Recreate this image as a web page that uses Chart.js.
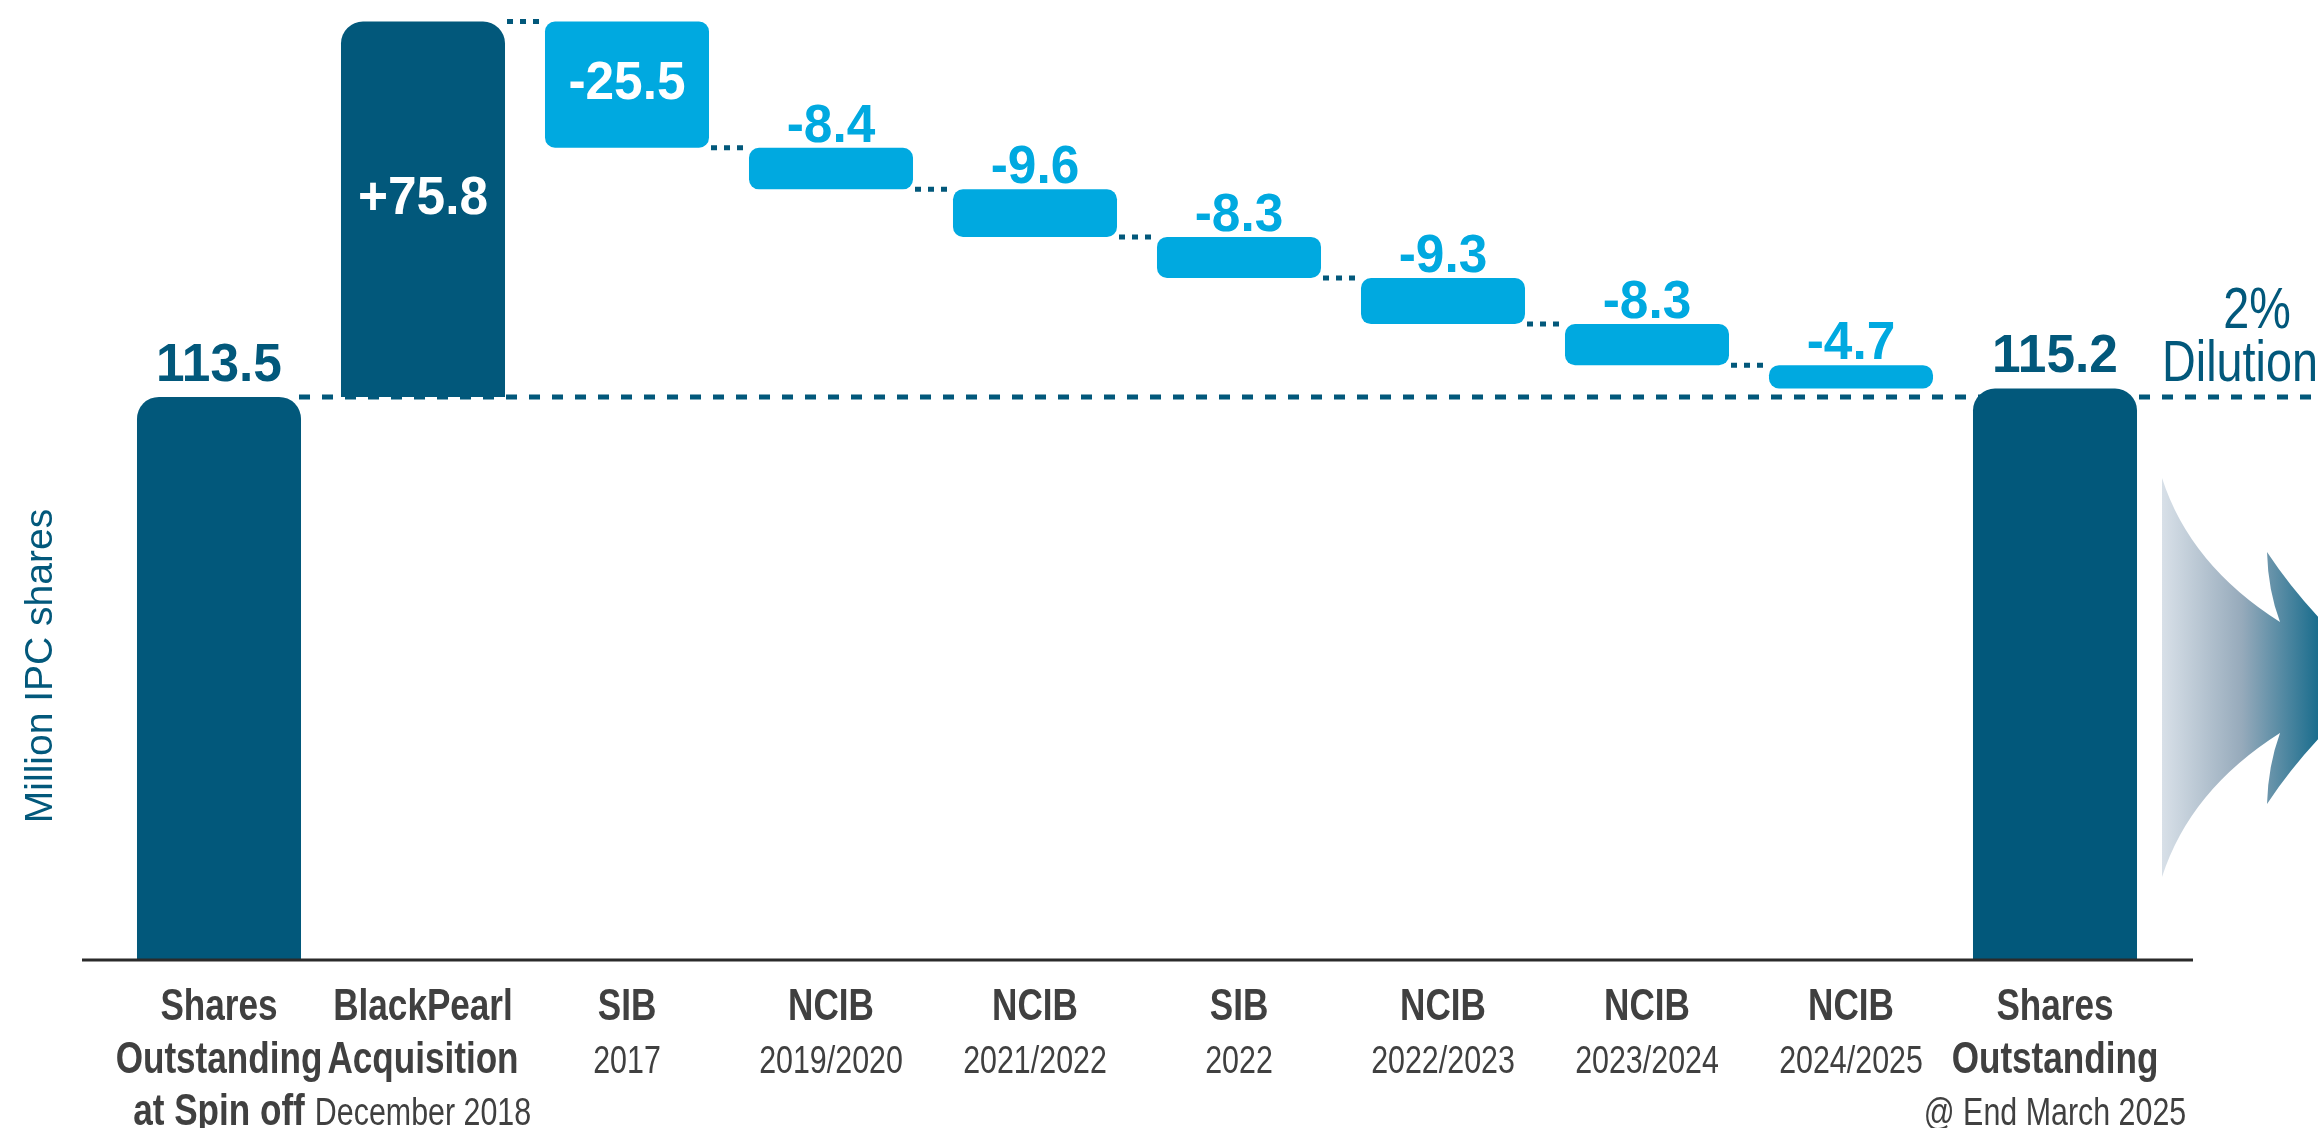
<!DOCTYPE html>
<html>
<head>
<meta charset="utf-8">
<title>IPC shares outstanding</title>
<script src="https://cdn.jsdelivr.net/npm/chart.js@4.4.1/dist/chart.umd.min.js"></script>
<style>
html, body { margin: 0; padding: 0; background: #fff; }
#wrap { width: 2318px; height: 1128px; position: relative; }
</style>
</head>
<body>
<div id="wrap"><canvas id="chart"></canvas></div>
<script>
// category labels: bold lines, then one regular line
var catTitles = [
    ['Shares', 'Outstanding', 'at Spin off'],
    ['BlackPearl', 'Acquisition'],
    ['SIB'], ['NCIB'], ['NCIB'], ['SIB'], ['NCIB'], ['NCIB'], ['NCIB'],
    ['Shares', 'Outstanding']
];
var catSubs = ['', 'December 2018', '2017', '2019/2020', '2021/2022', '2022',
               '2022/2023', '2023/2024', '2024/2025', '@ End March 2025'];

// million shares
var openingShares = 113.5;
var changes = [75.8, -25.5, -8.4, -9.6, -8.3, -9.3, -8.3, -4.7];
var closingShares = 115.2;

var yTitle = 'Million IPC shares';
var dilutionNote = ['2%', 'Dilution'];

var DARK = '#02587b', LIGHT = '#00a9e0', GREY = '#404040';

// build the waterfall (floating bars)
var bars = [[0, openingShares]];
var valueText = [openingShares.toFixed(1)];
var kinds = ['total'];
var run = openingShares;
changes.forEach(function(c) {
    bars.push([run, run + c]);
    valueText.push((c > 0 ? '+' : '') + c.toFixed(1));
    kinds.push(c > 0 ? 'up' : 'down');
    run = Math.round((run + c) * 10) / 10;
});
bars.push([0, closingShares]);
valueText.push(closingShares.toFixed(1));
kinds.push('total');

function narrowText(ctx, txt, x, y, font, color, sx, base) {
    ctx.save();
    ctx.translate(x, y);
    ctx.scale(sx, 1);
    ctx.font = font;
    ctx.fillStyle = color;
    ctx.textAlign = 'center';
    ctx.textBaseline = base || 'alphabetic';
    ctx.fillText(txt, 0, 0);
    ctx.restore();
}

function barBox(chart, i) {
    var el = chart.getDatasetMeta(0).data[i];
    var p = el.getProps(['x', 'y', 'base', 'width'], true);
    return {
        x: p.x, left: p.x - p.width / 2, right: p.x + p.width / 2,
        top: Math.min(p.y, p.base), bottom: Math.max(p.y, p.base)
    };
}

var waterfallDecor = {
    id: 'waterfallDecor',
    beforeDatasetsDraw: function(chart) {
        var ctx = chart.ctx, y = chart.scales.y;
        ctx.save();
        ctx.strokeStyle = DARK;
        ctx.lineWidth = 5;
        // opening level reference line
        var b0 = barBox(chart, 0);
        var yo = y.getPixelForValue(openingShares);
        ctx.setLineDash([11, 12]);
        ctx.beginPath();
        ctx.moveTo(b0.right - 2, yo);
        ctx.lineTo(chart.width, yo);
        ctx.stroke();
        // connectors between the steps
        ctx.setLineDash([6, 7]);
        for (var i = 1; i < bars.length - 2; i++) {
            var a = barBox(chart, i), b = barBox(chart, i + 1);
            var yl = y.getPixelForValue(bars[i][1]);
            ctx.beginPath();
            ctx.moveTo(a.right + 2, yl);
            ctx.lineTo(b.left, yl);
            ctx.stroke();
        }
        ctx.restore();
    },
    afterDatasetsDraw: function(chart) {
        var ctx = chart.ctx, area = chart.chartArea, x = chart.scales.x;
        var valFont = 'bold 53px "Liberation Sans", Arial, sans-serif';

        // value labels
        for (var i = 0; i < bars.length; i++) {
            var bb = barBox(chart, i);
            if (kinds[i] === 'total') {
                narrowText(ctx, valueText[i], bb.x, bb.top - 16, valFont, DARK, 0.97);
            } else if (kinds[i] === 'up') {
                narrowText(ctx, valueText[i], bb.x, (bb.top + bb.bottom) / 2 - 10, valFont, '#ffffff', 0.97, 'middle');
            } else if (i === 2) {
                narrowText(ctx, valueText[i], bb.x, (bb.top + bb.bottom) / 2, valFont, '#ffffff', 0.97, 'middle');
            } else {
                narrowText(ctx, valueText[i], bb.x, bb.top - 6, valFont, LIGHT, 0.97);
            }
        }

        // axis line
        ctx.save();
        ctx.strokeStyle = '#2b2b2b';
        ctx.lineWidth = 3;
        ctx.beginPath();
        ctx.moveTo(area.left - 35, area.bottom + 1);
        ctx.lineTo(area.right + 36, area.bottom + 1);
        ctx.stroke();
        ctx.restore();

        // category labels
        var lineY = [61, 114, 166];
        for (var j = 0; j < catTitles.length; j++) {
            var cx = x.getPixelForValue(j);
            var t = catTitles[j];
            for (var k = 0; k < t.length; k++) {
                narrowText(ctx, t[k], cx, area.bottom + lineY[k],
                    'bold 45px "Liberation Sans", Arial, sans-serif', GREY, 0.78);
            }
            if (catSubs[j]) {
                narrowText(ctx, catSubs[j], cx, area.bottom + lineY[t.length],
                    '38px "Liberation Sans", Arial, sans-serif', GREY, 0.8);
            }
        }

        // y axis title
        ctx.save();
        ctx.translate(52, 666);
        ctx.rotate(-Math.PI / 2);
        ctx.font = '39px "Liberation Sans", Arial, sans-serif';
        ctx.fillStyle = DARK;
        ctx.textAlign = 'center';
        ctx.fillText(yTitle, 0, 0);
        ctx.restore();

        // dilution note
        var noteFont = '57px "Liberation Sans", Arial, sans-serif';
        narrowText(ctx, dilutionNote[0], area.right + 100, 328, noteFont, DARK, 0.82);
        narrowText(ctx, dilutionNote[1], area.right + 83, 381, noteFont, DARK, 0.82);
    },
    afterDraw: function(chart) {
        // decorative arrow at the right edge
        var ctx = chart.ctx;
        var ax = chart.chartArea.right + 5;
        ctx.save();
        var g = ctx.createLinearGradient(ax, 0, ax + 160, 0);
        g.addColorStop(0, '#d8e0e8');
        g.addColorStop(0.5, '#96aabb');
        g.addColorStop(1, '#146a8b');
        ctx.fillStyle = g;
        ctx.beginPath();
        ctx.moveTo(ax, 478);
        ctx.quadraticCurveTo(ax + 28, 565, ax + 118, 622);
        ctx.quadraticCurveTo(ax + 106, 590, ax + 105, 552);
        ctx.quadraticCurveTo(ax + 150, 620, ax + 222, 678);
        ctx.quadraticCurveTo(ax + 150, 736, ax + 105, 804);
        ctx.quadraticCurveTo(ax + 106, 766, ax + 118, 733);
        ctx.quadraticCurveTo(ax + 28, 790, ax, 877);
        ctx.closePath();
        ctx.fill();
        ctx.restore();
    }
};

var ctx = document.getElementById('chart');
var myChart = new Chart(ctx, {
    type: 'bar',
    data: {
        labels: catTitles.map(function(t) { return t.join(' '); }),
        datasets: [{
            data: bars,
            backgroundColor: function(c) { return kinds[c.dataIndex] === 'down' ? LIGHT : DARK; },
            borderRadius: function(c) { return kinds[c.dataIndex] === 'down' ? 10 : 22; },
            borderSkipped: function(c) { return kinds[c.dataIndex] === 'down' ? false : 'bottom'; },
            borderWidth: 0,
            barPercentage: 0.804,
            categoryPercentage: 1.0
        }]
    },
    options: {
        responsive: true,
        maintainAspectRatio: false,
        animation: false,
        layout: { padding: { left: 117, right: 161, top: 18, bottom: 169 } },
        plugins: {
            legend: { display: false },
            tooltip: { enabled: false }
        },
        scales: {
            x: { display: false },
            y: { display: false, min: 0, max: 190 }
        }
    },
    plugins: [waterfallDecor]
});
</script>
</body>
</html>
